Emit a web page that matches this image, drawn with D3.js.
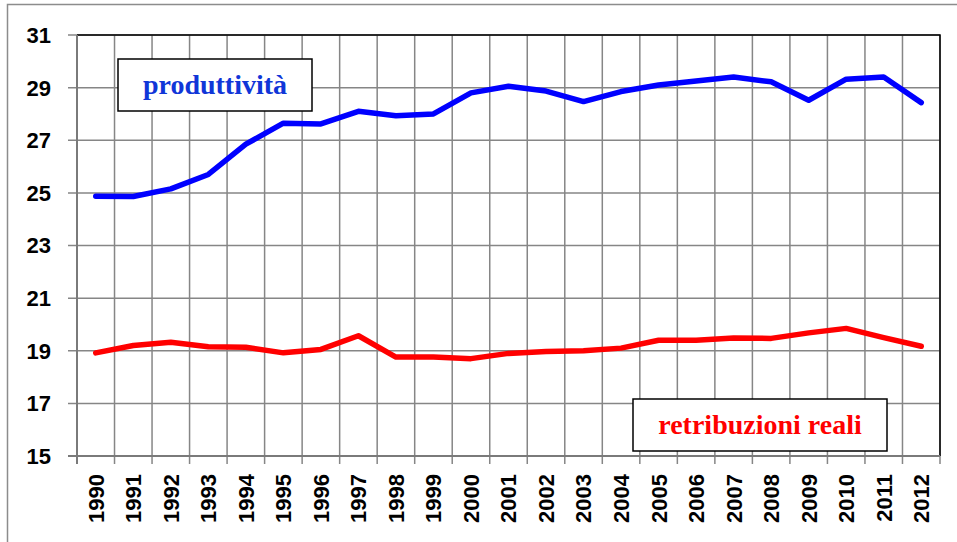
<!doctype html>
<html>
<head>
<meta charset='utf-8'>
<style>
  body { margin: 0; background: #fff; }
  svg { display: block; }
  .ylab, .xlab { font-family: 'Liberation Sans', Arial, sans-serif; font-weight: bold; font-size: 22px; fill: #000; }
</style>
</head>
<body>
<div id='chart'></div>
<script src='https://cdn.jsdelivr.net/npm/d3@7/dist/d3.min.js'></script>
<script>

const years = ['1990','1991','1992','1993','1994','1995','1996','1997','1998','1999','2000','2001',
  '2002','2003','2004','2005','2006','2007','2008','2009','2010','2011','2012'];
const produttivita = [24.87, 24.86, 25.15, 25.7, 26.85, 27.65, 27.62, 28.1, 27.93, 28.0, 28.8, 29.05,
  28.87, 28.47, 28.85, 29.1, 29.25, 29.4, 29.22, 28.52, 29.32, 29.4, 28.43];
const retribuzioni = [18.92, 19.2, 19.32, 19.15, 19.13, 18.92, 19.05, 19.57, 18.76, 18.76, 18.7, 18.9,
  18.97, 19.0, 19.1, 19.4, 19.4, 19.48, 19.47, 19.68, 19.85, 19.5, 19.17];
const yTicks = [15, 17, 19, 21, 23, 25, 27, 29, 31];

const W = 957, H = 542;
const plot = {l: 77, t: 35, r: 940, b: 456};

const svg = d3.select('#chart').append('svg')
  .attr('width', W)
  .attr('height', H);

// outer chart frame (cut off at right/bottom)
svg.append('rect')
  .attr('x', 7.5).attr('y', 4.5)
  .attr('width', 1000).attr('height', 600)
  .attr('fill', 'none')
  .attr('stroke', '#8c8c8c')
  .attr('stroke-width', 1.5);

const x = d3.scaleBand()
  .domain(years)
  .range([plot.l, plot.r]);

const y = d3.scaleLinear()
  .domain([15, 31])
  .range([plot.b, plot.t]);

// grid
const grid = svg.append('g');
grid.selectAll('.hg')
  .data(yTicks)
  .enter().append('line')
  .attr('x1', plot.l - 9).attr('x2', plot.r)
  .attr('y1', d => y(d)).attr('y2', d => y(d))
  .attr('stroke', '#868686').attr('stroke-width', 1.5);

const vx = years.map(d => x(d)).concat([plot.r]);
grid.selectAll('.vg')
  .data(vx)
  .enter().append('line')
  .attr('x1', d => d).attr('x2', d => d)
  .attr('y1', plot.t).attr('y2', plot.b + 8)
  .attr('stroke', '#868686').attr('stroke-width', 1.5);

// plot area border top/right
svg.append('path')
  .attr('d', `M${plot.l},${plot.t}H${plot.r}V${plot.b}`)
  .attr('fill', 'none')
  .attr('stroke', '#000')
  .attr('stroke-width', 1.5);

// axes lines
svg.append('line')
  .attr('x1', plot.l).attr('x2', plot.l)
  .attr('y1', plot.t).attr('y2', plot.b + 8)
  .attr('stroke', '#7a7a7a').attr('stroke-width', 2);
svg.append('line')
  .attr('x1', plot.l - 9).attr('x2', plot.r)
  .attr('y1', plot.b).attr('y2', plot.b)
  .attr('stroke', '#7a7a7a').attr('stroke-width', 2);

// y labels
svg.selectAll('.ylab')
  .data(yTicks)
  .enter().append('text')
  .attr('class', 'ylab')
  .attr('x', 51)
  .attr('y', d => y(d))
  .attr('dy', '0.36em')
  .attr('text-anchor', 'end')
  .text(d => d);

// x labels
svg.selectAll('.xlab')
  .data(years)
  .enter().append('text')
  .attr('class', 'xlab')
  .attr('transform', d => `translate(${x(d) + x.bandwidth() / 2}, 474) rotate(-90)`)
  .attr('dy', '0.36em')
  .attr('text-anchor', 'end')
  .text(d => d);

// lines
const line = d3.line()
  .x((d, i) => x(years[i]) + x.bandwidth() / 2)
  .y(d => y(d));

svg.append('path')
  .datum(produttivita)
  .attr('d', line)
  .attr('fill', 'none')
  .attr('stroke', '#0000ff')
  .attr('stroke-width', 5.5)
  .attr('stroke-linejoin', 'round')
  .attr('stroke-linecap', 'round');

svg.append('path')
  .datum(retribuzioni)
  .attr('d', line)
  .attr('fill', 'none')
  .attr('stroke', '#ff0000')
  .attr('stroke-width', 5.5)
  .attr('stroke-linejoin', 'round')
  .attr('stroke-linecap', 'round');

// labels in boxes
function labelBox(x0, y0, w, h, txt, col){
  const g = svg.append('g');
  g.append('rect')
    .attr('x', x0).attr('y', y0)
    .attr('width', w).attr('height', h)
    .attr('fill', '#fff')
    .attr('stroke', '#000')
    .attr('stroke-width', 1.5);
  g.append('text')
    .attr('x', x0 + w / 2)
    .attr('y', y0 + h / 2)
    .attr('dy', '0.33em')
    .attr('text-anchor', 'middle')
    .style('font-family', "'Liberation Serif', 'DejaVu Serif', serif")
    .style('font-weight', 'bold')
    .style('font-size', '28px')
    .style('fill', col)
    .text(txt);
}
labelBox(118, 59, 194, 52, 'produttività', '#1036d8');
labelBox(633, 399, 254, 52, 'retribuzioni reali', '#ff0000');

</script>
</body>
</html>
